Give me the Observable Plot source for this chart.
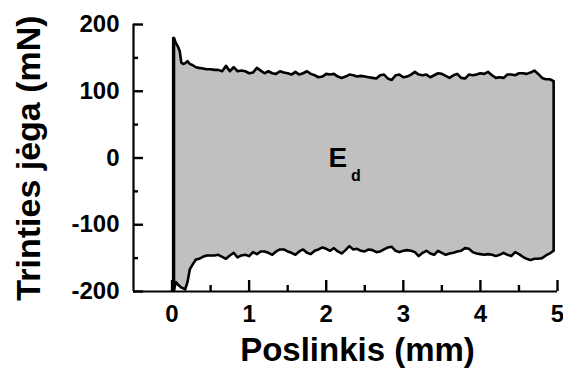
<!DOCTYPE html>
<html>
<head>
<meta charset="utf-8">
<script src="https://cdn.jsdelivr.net/npm/d3@7"></script>
<script src="https://cdn.jsdelivr.net/npm/@observablehq/plot@0.6"></script>
<style>
  html, body { margin: 0; padding: 0; background: #fff; overflow: hidden; }
  #chart svg { display: block; }
</style>
</head>
<body>
<div id="chart"></div>
<script>
// Displacement (mm)
const displacement = [
  0.02, 0.03, 0.05, 0.08, 0.10, 0.12, 0.14, 0.17, 0.20, 0.23, 0.27, 0.31, 0.35, 0.40, 0.45,
  0.50, 0.55, 0.60, 0.65, 0.70, 0.75, 0.80, 0.85, 0.90, 0.95,
  1.00, 1.05, 1.10, 1.15, 1.20, 1.25, 1.30, 1.35, 1.40, 1.45,
  1.50, 1.55, 1.60, 1.65, 1.70, 1.75, 1.80, 1.85, 1.90, 1.95,
  2.00, 2.05, 2.10, 2.15, 2.20, 2.25, 2.30, 2.35, 2.40, 2.45,
  2.50, 2.55, 2.60, 2.65, 2.70, 2.75, 2.80, 2.85, 2.90, 2.95,
  3.00, 3.05, 3.10, 3.15, 3.20, 3.25, 3.30, 3.35, 3.40, 3.45,
  3.50, 3.55, 3.60, 3.65, 3.70, 3.75, 3.80, 3.85, 3.90, 3.95,
  4.00, 4.05, 4.10, 4.15, 4.20, 4.25, 4.30, 4.35, 4.40, 4.45,
  4.50, 4.55, 4.60, 4.65, 4.70, 4.75, 4.80, 4.85, 4.90, 4.95
];
// Friction force, forward stroke (mN)
const forceForward = [
  180, 178, 172, 166, 160, 143, 141, 142, 145, 141, 139, 136, 135, 134, 133,
  133, 132, 132, 130, 138, 130, 136, 130, 131, 130,
  127, 128, 135, 131, 127, 130, 127, 126, 130, 128,
  127, 125, 129, 125, 127, 130, 126, 124, 121, 122,
  126, 125, 126, 122, 120, 122, 125, 124, 122, 123,
  122, 121, 120, 119, 124, 125, 119, 117, 124, 125,
  121, 122, 125, 129, 125, 124, 125, 121, 124, 127,
  126, 123, 120, 124, 126, 120, 119, 125, 124, 125,
  127, 126, 129, 124, 120, 121, 120, 125, 125, 124,
  127, 127, 126, 128, 131, 126, 120, 118, 118, 115
];
// Friction force, backward stroke (mN)
const forceBackward = [
  -200, -195, -186, -190, -192, -194, -195, -197, -186, -167, -159, -152, -151, -148, -146,
  -146, -146, -145, -148, -151, -146, -142, -149, -146, -145,
  -147, -141, -144, -140, -140, -142, -145, -140, -137, -137,
  -140, -142, -145, -140, -137, -142, -144, -139, -137, -134,
  -136, -139, -135, -140, -143, -138, -132, -137, -136, -139,
  -140, -137, -138, -141, -140, -137, -134, -133, -139, -141,
  -139, -138, -139, -141, -147, -142, -139, -143, -145, -139,
  -142, -145, -143, -142, -140, -139, -135, -136, -141, -143,
  -144, -145, -144, -145, -147, -145, -142, -145, -147, -141,
  -144, -148, -151, -153, -151, -151, -150, -146, -143, -139
];
const xTicks = [0, 1, 2, 3, 4, 5];
const xMinorTicks = [0.5, 1.5, 2.5, 3.5, 4.5];
const yTicks = [-200, -100, 0, 100, 200];
const yMinorTicks = [-150, -50, 50, 150];
const xTitle = "Poslinkis (mm)";
const yTitle = "Trinties jėga (mN)";
const areaLabel = {main: "E", sub: "d", x: 2.15, y: 0};

const rows = displacement.map((d, i) => ({x: d, top: forceForward[i], bot: forceBackward[i]}));
const first = rows[0], last = rows[rows.length - 1];

const font = "'Liberation Sans', Arial, sans-serif";
const fmt = d => String(d);

const W = 563, H = 369, mL = 133, mR = 6, mT = 24, mB = 78;
const frameW = W - mL - mR, frameH = H - mT - mB;

const chart = Plot.plot({
  width: W,
  height: H,
  marginLeft: mL,
  marginRight: mR,
  marginTop: mT,
  marginBottom: mB,
  style: {fontFamily: font, fontWeight: "bold", fontSize: "24px", color: "#000", background: "#fff", overflow: "visible"},
  x: {domain: [-0.5, 5], label: null},
  y: {domain: [-200, 200], label: null},
  marks: [
    Plot.areaY(rows, {x: "x", y1: "bot", y2: "top", fill: "#c0c0c0", clip: true}),
    Plot.line(rows, {x: "x", y: "top", stroke: "#000", strokeWidth: 2.6, clip: true}),
    Plot.line(rows, {x: "x", y: "bot", stroke: "#000", strokeWidth: 2.6, clip: true}),
    Plot.ruleX([first], {x: "x", y1: "bot", y2: "top", stroke: "#000", strokeWidth: 3.4}),
    Plot.ruleX([last], {x: "x", y1: "bot", y2: "top", stroke: "#000", strokeWidth: 2.6}),
    // axis lines
    Plot.ruleX([-0.5], {y1: -200, y2: 200, stroke: "#000", strokeWidth: 2.2}),
    Plot.ruleY([-200], {x1: -0.5, x2: 5, stroke: "#000", strokeWidth: 2.2}),
    // inward ticks
    Plot.tickY(yTicks, {y: d => d, insetRight: frameW - 10, stroke: "#000", strokeWidth: 2.4}),
    Plot.tickY(yMinorTicks, {y: d => d, insetRight: frameW - 5, stroke: "#000", strokeWidth: 2.4}),
    Plot.tickX(xTicks, {x: d => d, insetTop: frameH - 11, stroke: "#000", strokeWidth: 2.4}),
    Plot.tickX(xMinorTicks, {x: d => d, insetTop: frameH - 6, stroke: "#000", strokeWidth: 2.4}),
    // tick labels
    Plot.axisY(yTicks, {tickSize: 0, tickPadding: 14, tickFormat: fmt, label: null, fontSize: 24, fontWeight: "bold"}),
    Plot.axisX(xTicks, {tickSize: 0, tickPadding: 13, tickFormat: fmt, label: null, fontSize: 24, fontWeight: "bold"}),
    // titles
    Plot.text([xTitle], {frameAnchor: "bottom", dx: 12, dy: 59, lineAnchor: "middle", textAnchor: "middle", fontSize: 33, fontWeight: "bold", fill: "#000"}),
    Plot.text([yTitle], {frameAnchor: "left", rotate: -90, dx: -104, lineAnchor: "middle", textAnchor: "middle", fontSize: 34, fontWeight: "bold", fill: "#000"}),
    // E_d annotation
    Plot.text([areaLabel], {x: "x", y: "y", text: "main", lineAnchor: "middle", fontSize: 28, fontWeight: "bold", fill: "#000"}),
    Plot.text([areaLabel], {x: "x", y: "y", text: "sub", dx: 18, dy: 18, lineAnchor: "middle", fontSize: 16, fontWeight: "bold", fill: "#000"})
  ]
});
document.getElementById("chart").appendChild(chart);
</script>
</body>
</html>
